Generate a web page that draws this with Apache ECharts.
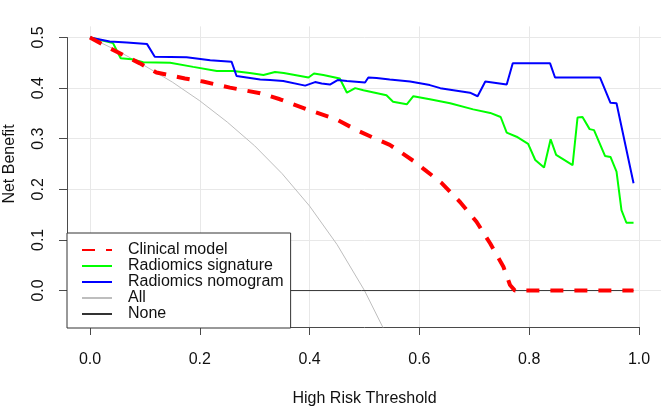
<!DOCTYPE html>
<html>
<head>
<meta charset="utf-8">
<script src="https://cdn.jsdelivr.net/npm/echarts@6/dist/echarts.min.js"></script>
<style>
html,body{margin:0;padding:0;background:#fff;}
#chart{width:661px;height:407px;}
</style>
</head>
<body>
<div id="chart"></div>
<script>
// Tick labels
var xTicks = [0, 0.2, 0.4, 0.6, 0.8, 1.0];
var yTicks = [0, 0.1, 0.2, 0.3, 0.4, 0.5];

// Series names
var seriesNames = ['Clinical model', 'Radiomics signature', 'Radiomics nomogram', 'All', 'None'];

// Clinical model (red dashed)
var clinicalX = [0, 0.036, 0.091, 0.121, 0.173, 0.206, 0.255, 0.31, 0.346, 0.398, 0.449, 0.486, 0.522, 0.546, 0.565, 0.592, 0.607, 0.641, 0.674, 0.704, 0.729, 0.753, 0.765, 0.774, 0.8, 0.9, 0.99];
var clinicalY = [0.5, 0.479, 0.449, 0.431, 0.419, 0.413, 0.401, 0.390, 0.378, 0.357, 0.338, 0.317, 0.299, 0.288, 0.274, 0.254, 0.241, 0.212, 0.175, 0.136, 0.093, 0.047, 0.011, 0, 0, 0, 0];

// Radiomics signature (green)
var signatureX = [0, 0.042, 0.056, 0.076, 0.097, 0.146, 0.188, 0.231, 0.261, 0.291, 0.316, 0.337, 0.353, 0.398, 0.408, 0.425, 0.455, 0.468, 0.483, 0.498, 0.540, 0.552, 0.577, 0.589, 0.619, 0.656, 0.698, 0.729, 0.748, 0.759, 0.777, 0.798, 0.811, 0.827, 0.839, 0.849, 0.879, 0.888, 0.897, 0.91, 0.918, 0.938, 0.948, 0.959, 0.968, 0.977, 0.99];
var signatureY = [0.5, 0.489, 0.459, 0.457, 0.451, 0.450, 0.442, 0.434, 0.434, 0.430, 0.426, 0.432, 0.430, 0.421, 0.429, 0.426, 0.419, 0.391, 0.400, 0.396, 0.386, 0.373, 0.368, 0.384, 0.378, 0.370, 0.358, 0.351, 0.343, 0.312, 0.304, 0.290, 0.258, 0.243, 0.299, 0.268, 0.248, 0.342, 0.343, 0.319, 0.317, 0.266, 0.264, 0.235, 0.159, 0.134, 0.134];

// Radiomics nomogram (blue)
var nomogramX = [0, 0.036, 0.067, 0.104, 0.118, 0.176, 0.219, 0.258, 0.267, 0.31, 0.328, 0.352, 0.392, 0.41, 0.422, 0.437, 0.451, 0.468, 0.501, 0.507, 0.522, 0.546, 0.583, 0.619, 0.638, 0.674, 0.692, 0.706, 0.72, 0.759, 0.77, 0.838, 0.847, 0.929, 0.948, 0.959, 0.99];
var nomogramY = [0.5, 0.492, 0.490, 0.487, 0.462, 0.461, 0.455, 0.452, 0.424, 0.417, 0.416, 0.414, 0.405, 0.412, 0.409, 0.407, 0.416, 0.414, 0.411, 0.421, 0.420, 0.417, 0.413, 0.406, 0.400, 0.394, 0.391, 0.384, 0.413, 0.407, 0.449, 0.449, 0.421, 0.421, 0.371, 0.370, 0.212];

// All (grey)
var allX = [0, 0.05, 0.1, 0.15, 0.2, 0.25, 0.3, 0.35, 0.4, 0.45, 0.5, 0.54];
var allY = [0.5, 0.474, 0.444, 0.412, 0.375, 0.333, 0.286, 0.231, 0.167, 0.091, 0, -0.087];

// None (black)
var noneX = [0, 0.99];
var noneY = [0, 0];

function pairs(xs, ys) { return xs.map(function (x, i) { return [x, ys[i]]; }); }

var FONT = '"Liberation Sans", Arial, sans-serif';
var chart = echarts.init(document.getElementById('chart'), null, {renderer: 'canvas'});

var option = {
  backgroundColor: '#ffffff',
  animation: false,
  textStyle: {fontFamily: FONT},
  grid: [
    {left: 68, right: 0, top: 26.4, bottom: 80, containLabel: false, outerBoundsMode: 'none'},
    {left: 90, right: 22, top: 37.5, bottom: 116.5, containLabel: false, outerBoundsMode: 'none'}
  ],
  xAxis: [
    {
      gridIndex: 0, type: 'value', min: -0.04, max: 1.04,
      axisLine: {show: false, onZero: false},
      axisTick: {show: false, customValues: xTicks},
      axisLabel: {show: false, customValues: xTicks},
      splitLine: {show: true, lineStyle: {color: '#e8e8e8', width: 1}}
    },
    {
      gridIndex: 1, type: 'value', min: 0, max: 1, interval: 0.2, offset: 36.5,
      position: 'bottom',
      axisLine: {show: true, onZero: false, lineStyle: {color: '#4a4a4a', width: 1}},
      axisTick: {show: true, length: 8, lineStyle: {color: '#4a4a4a'}},
      axisLabel: {show: true, margin: 25, color: '#111', fontSize: 16, fontFamily: FONT,
        formatter: function (v) { return v.toFixed(1); }},
      splitLine: {show: false},
      name: 'High Risk Threshold', nameLocation: 'middle', nameGap: 64,
      nameTextStyle: {color: '#111', fontSize: 16, fontFamily: FONT}
    }
  ],
  yAxis: [
    {
      gridIndex: 0, type: 'value', min: -0.072, max: 0.522,
      axisLine: {show: false, onZero: false},
      axisTick: {show: false, customValues: yTicks},
      axisLabel: {show: false, customValues: yTicks},
      splitLine: {show: true, lineStyle: {color: '#e8e8e8', width: 1}}
    },
    {
      gridIndex: 1, type: 'value', min: 0, max: 0.5, interval: 0.1, offset: 23,
      position: 'left',
      axisLine: {show: true, onZero: false, lineStyle: {color: '#4a4a4a', width: 1}},
      axisTick: {show: true, length: 8, lineStyle: {color: '#4a4a4a'}},
      axisLabel: {show: true, margin: 20.5, rotate: 90, color: '#111', fontSize: 16, fontFamily: FONT,
        formatter: function (v) { return v.toFixed(1); }},
      splitLine: {show: false},
      name: 'Net Benefit', nameLocation: 'middle', nameGap: 49.5,
      nameTextStyle: {color: '#111', fontSize: 16, fontFamily: FONT}
    }
  ],
  legend: {
    data: seriesNames,
    orient: 'vertical',
    left: 67, top: 233,
    padding: [9, 7, 6, 14],
    itemGap: 0,
    itemWidth: 30, itemHeight: 14,
    itemStyle: {opacity: 0},
    backgroundColor: '#ffffff',
    borderColor: '#333333', borderWidth: 1, borderRadius: 0,
    textStyle: {color: '#111', fontSize: 16, fontFamily: FONT, lineHeight: 15.75, padding: [0, 0, 0, 11]},
    selectedMode: false
  },
  series: [
    {name: 'All', type: 'line', xAxisIndex: 0, yAxisIndex: 0, data: pairs(allX, allY),
      symbol: 'none', smooth: false, lineStyle: {color: '#bebebe', width: 1}, itemStyle: {color: '#bebebe'}, z: 2},
    {name: 'None', type: 'line', xAxisIndex: 0, yAxisIndex: 0, data: pairs(noneX, noneY),
      symbol: 'none', lineStyle: {color: '#333333', width: 1}, itemStyle: {color: '#333333'}, z: 2},
    {name: 'Radiomics signature', type: 'line', xAxisIndex: 0, yAxisIndex: 0, data: pairs(signatureX, signatureY),
      symbol: 'none', lineStyle: {color: '#00ff00', width: 2}, itemStyle: {color: '#00ff00'}, z: 3},
    {name: 'Radiomics nomogram', type: 'line', xAxisIndex: 0, yAxisIndex: 0, data: pairs(nomogramX, nomogramY),
      symbol: 'none', lineStyle: {color: '#0000ff', width: 2}, itemStyle: {color: '#0000ff'}, z: 3},
    {name: 'Clinical model', type: 'line', xAxisIndex: 0, yAxisIndex: 0, data: pairs(clinicalX, clinicalY),
      symbol: 'none', lineStyle: {color: '#ff0000', width: 4, type: [13, 11], cap: 'butt'}, itemStyle: {color: '#ff0000'}, z: 4}
  ]
};
chart.setOption(option);
</script>
</body>
</html>
